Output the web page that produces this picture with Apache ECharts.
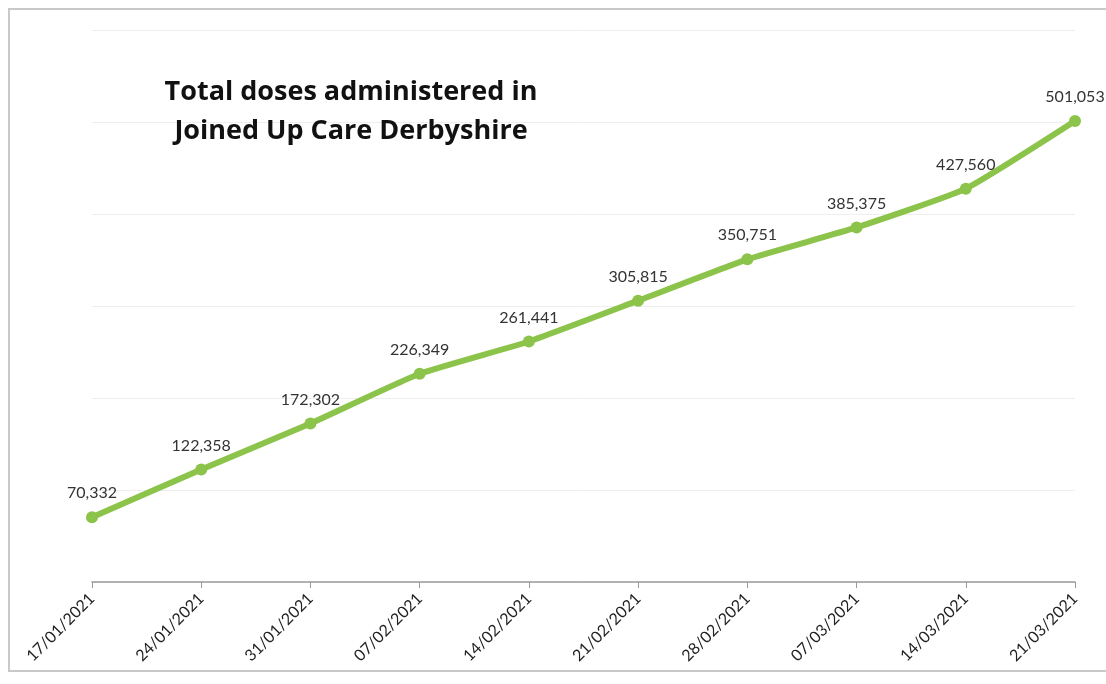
<!DOCTYPE html>
<html>
<head>
<meta charset="utf-8">
<script src="https://cdn.jsdelivr.net/npm/echarts@6/dist/echarts.min.js"></script>
<style>
  html, body { margin: 0; padding: 0; background: #fff; }
  #frame { position: absolute; left: 8px; top: 8px; width: 1110px; height: 664px; border: 2px solid #c8c8c8; border-right: none; box-sizing: border-box; }
  #chart { position: absolute; left: 0; top: 0; width: 1106px; height: 684px; }
</style>
</head>
<body>
<div id="frame"></div>
<div id="chart"></div>
<script>
// weekly dates and cumulative doses
var weeks = ['17/01/2021', '24/01/2021', '31/01/2021', '07/02/2021', '14/02/2021',
             '21/02/2021', '28/02/2021', '07/03/2021', '14/03/2021', '21/03/2021'];
var doses = [70332, 122358, 172302, 226349, 261441, 305815, 350751, 385375, 427560, 501053];
var titleLines = ['Total doses administered in', 'Joined Up Care Derbyshire'];

var chart = echarts.init(document.getElementById('chart'));

chart.setOption({
  animation: false,
  title: {
    text: titleLines.join('\n'),
    left: 346,
    top: 68,
    textAlign: 'center',
    textStyle: {
      fontFamily: 'Open Sans',
      fontWeight: 'bold',
      fontSize: 27,
      lineHeight: 39,
      color: '#111'
    }
  },
  grid: { left: 92, right: 31, top: 30, bottom: 102 },
  xAxis: {
    type: 'category',
    boundaryGap: false,
    data: weeks,
    axisLine: { lineStyle: { color: '#9a9a9a', width: 1.5 } },
    axisTick: { show: true, length: 6, lineStyle: { color: '#9a9a9a' } },
    axisLabel: {
      rotate: 45,
      interval: 0,
      margin: 14,
      fontFamily: 'Lato',
      fontSize: 16,
      color: '#222'
    }
  },
  yAxis: {
    type: 'value',
    min: 0,
    max: 600000,
    interval: 100000,
    axisLine: { show: false },
    axisTick: { show: false },
    axisLabel: { show: false },
    splitLine: { lineStyle: { color: '#eeeeee', width: 1 } }
  },
  series: [{
    type: 'line',
    data: doses,
    smooth: 0.15,
    symbol: 'circle',
    symbolSize: 12,
    lineStyle: { color: '#8cc34a', width: 6 },
    itemStyle: { color: '#8cc34a' },
    label: {
      show: true,
      position: 'top',
      distance: 10,
      fontFamily: 'Lato',
      fontSize: 16,
      color: '#333',
      formatter: function (p) { return p.value.toLocaleString('en-GB'); }
    }
  }]
});
</script>
</body>
</html>
